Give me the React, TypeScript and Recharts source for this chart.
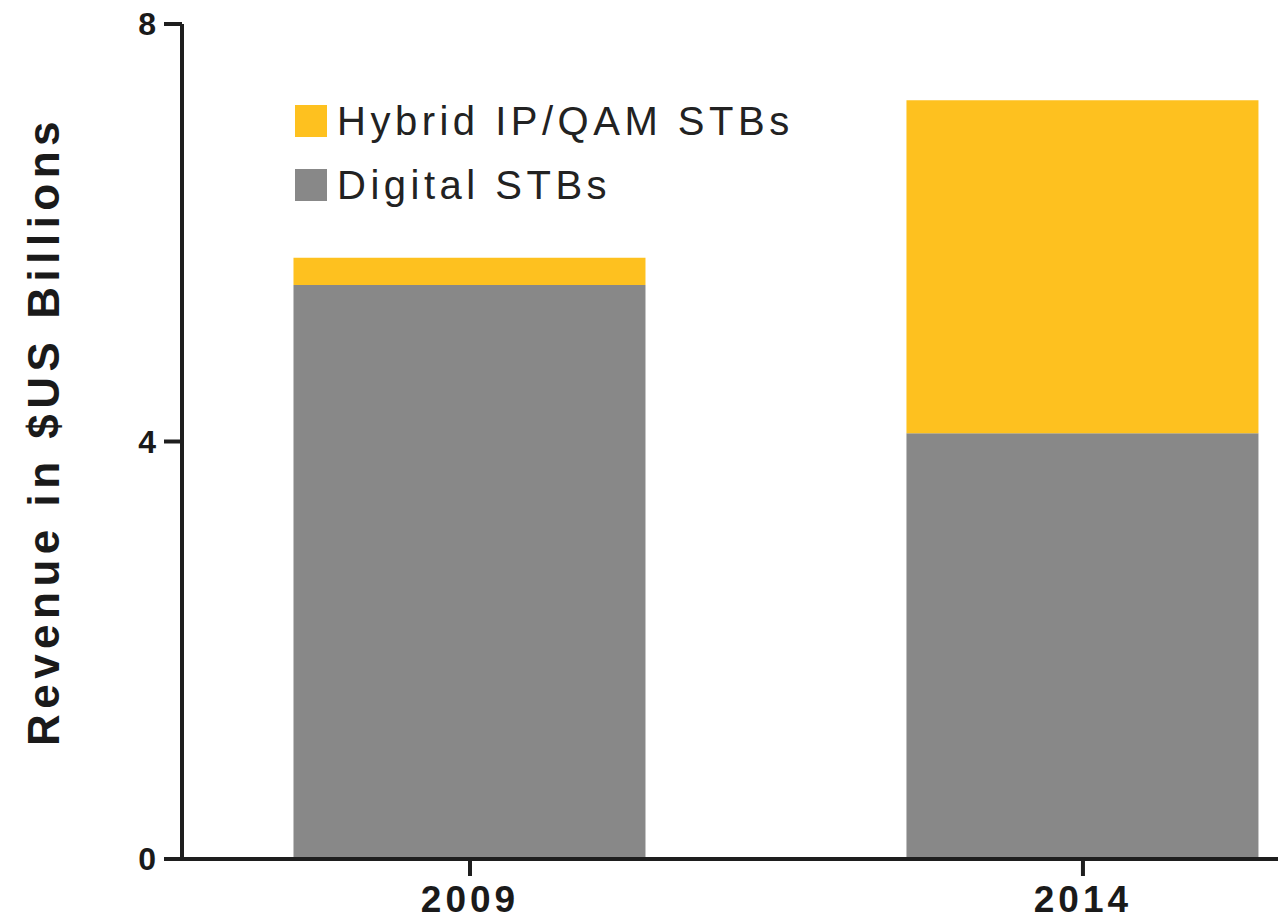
import React from 'react';
import { BarChart, Bar, XAxis, YAxis, Legend, Label } from 'recharts';

// Revenue by set-top box type, in $US billions
const years = [2009, 2014];
const digitalStb = [5.5, 4.08];
const hybridStb = [0.26, 3.19];
const yTicks = [0, 4, 8];
const seriesNames = { digital: 'Digital STBs', hybrid: 'Hybrid IP/QAM STBs' };

const data = years.map((year, i) => ({
  year,
  digital: digitalStb[i],
  hybrid: hybridStb[i],
}));

const FONT = '"Liberation Sans", Arial, Helvetica, sans-serif';
const AXIS = '#1e1e1e';
const GRAY = '#888888';
const YELLOW = '#FEC11F';

// Stacked legend, top series first
const LegendBox = (props: any) => {
  const items = [...(props.payload || [])].reverse();
  return (
    <div style={{ fontFamily: FONT }}>
      {items.map((item: any) => (
        <div
          key={item.value}
          style={{ display: 'flex', alignItems: 'center', height: 64 }}
        >
          <div style={{ width: 32, height: 32, background: item.color, marginRight: 10 }} />
          <span style={{ fontSize: 40, letterSpacing: 4.5, color: '#222', whiteSpace: 'nowrap' }}>
            {item.value}
          </span>
        </div>
      ))}
    </div>
  );
};

const AxisTitle = () => (
  <text
    transform="translate(59,431) rotate(-90)"
    textAnchor="middle"
    fontFamily={FONT}
    fontWeight="bold"
    fontSize={44}
    letterSpacing={5.5}
    fill="#1a1a1a"
  >
    Revenue in $US Billions
  </text>
);

export default function App() {
  return (
    <div
      style={{
        position: 'absolute',
        left: 0,
        top: 0,
        width: 1278,
        height: 923,
        overflow: 'hidden',
        background: '#fff',
      }}
    >
      <BarChart
        width={1278}
        height={923}
        data={data}
        margin={{ top: 24, right: 0, bottom: 0, left: 0 }}
      >
        <XAxis
          type="number"
          dataKey="year"
          domain={[2006.651, 2015.591]}
          allowDataOverflow
          ticks={years}
          tickFormatter={(v: number) => String(v)}
          height={64}
          tickSize={17}
          tickMargin={10}
          axisLine={{ stroke: AXIS, strokeWidth: 4 }}
          tickLine={{ stroke: AXIS, strokeWidth: 4 }}
          tick={{ fontFamily: FONT, fontSize: 37, fontWeight: 'bold', fill: '#1a1a1a', letterSpacing: 4 }}
        />
        <YAxis
          width={182}
          domain={[0, 8]}
          ticks={yTicks}
          tickSize={18}
          tickMargin={8}
          axisLine={{ stroke: AXIS, strokeWidth: 4 }}
          tickLine={{ stroke: AXIS, strokeWidth: 4 }}
          tick={{ fontFamily: FONT, fontSize: 32, fontWeight: 'bold', fill: '#1a1a1a' }}
        >
          <Label content={AxisTitle} />
        </YAxis>
        <Legend
          layout="horizontal"
          verticalAlign="middle"
          align="center"
          content={LegendBox}
          wrapperStyle={{ left: 295, top: 89, width: 560 }}
        />
        <Bar
          dataKey="digital"
          name={seriesNames.digital}
          stackId="rev"
          fill={GRAY}
          barSize={352}
          isAnimationActive={false}
        />
        <Bar
          dataKey="hybrid"
          name={seriesNames.hybrid}
          stackId="rev"
          fill={YELLOW}
          barSize={352}
          isAnimationActive={false}
        />
      </BarChart>
    </div>
  );
}
